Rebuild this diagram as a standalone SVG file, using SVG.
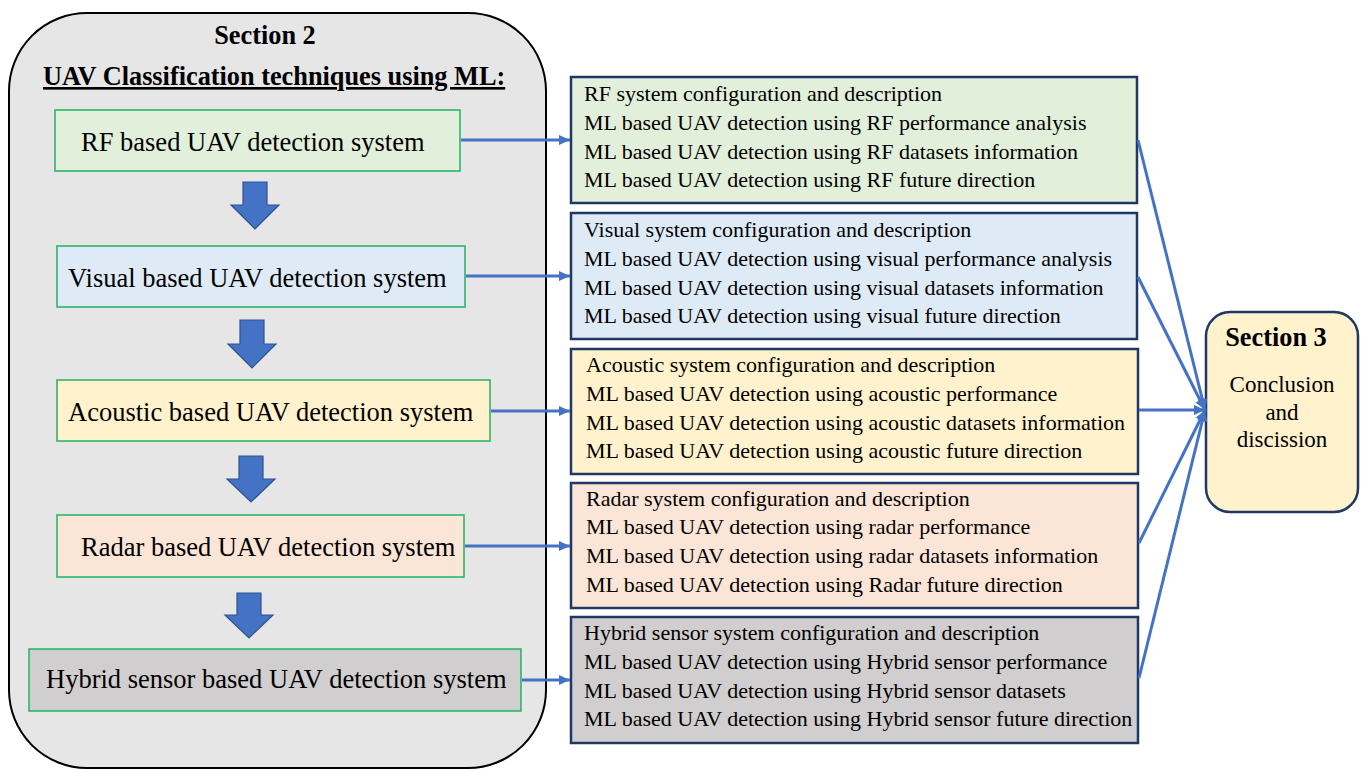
<svg xmlns="http://www.w3.org/2000/svg" width="1364" height="769" viewBox="0 0 1364 769">
<style>
.t{font-family:"Liberation Serif","Times New Roman",serif;fill:#000}
.lt{font-size:26.5px}
.rt{font-size:22px}
.b{font-weight:bold;font-size:26.3px}
.lb{stroke:#2DB56A;stroke-width:1.6}
.rb{stroke:#1F3864;stroke-width:2.5}
.ba{fill:#4472C4;stroke:#2F528F;stroke-width:1.2}
.cn{stroke:#4472C4;stroke-width:3;fill:none}
</style>
<defs>
<marker id="ah" markerUnits="userSpaceOnUse" markerWidth="12" markerHeight="12" viewBox="0 0 12 12" refX="11" refY="6" orient="auto">
<path d="M0,1 L11,6 L0,11 Z" fill="#4472C4"/>
</marker>
</defs>
<rect width="1364" height="769" fill="#fff"/>
<g id="section2">
<rect x="9" y="13" width="537" height="755" rx="78" ry="78" fill="#E7E6E6" stroke="#000" stroke-width="2"/>
<text class="t b" x="265" y="44" text-anchor="middle">Section 2</text>
<text class="t b" x="43" y="85" text-decoration="underline">UAV Classification techniques using ML:</text>
</g>
<g id="rf-left">
<rect class="lb" x="55" y="110" width="405" height="61" fill="#E2EFDA"/>
<text class="t lt" x="81" y="151">RF based UAV detection system</text>
</g>
<g id="visual-left">
<rect class="lb" x="57" y="246" width="408" height="61" fill="#DEEBF7"/>
<text class="t lt" x="68" y="287">Visual based UAV detection system</text>
</g>
<g id="acoustic-left">
<rect class="lb" x="57" y="380" width="433" height="61" fill="#FFF2CC"/>
<text class="t lt" x="68" y="421">Acoustic based UAV detection system</text>
</g>
<g id="radar-left">
<rect class="lb" x="57" y="515" width="407" height="62" fill="#FBE5D6"/>
<text class="t lt" x="81" y="556">Radar based UAV detection system</text>
</g>
<g id="hybrid-left">
<rect class="lb" x="29" y="649" width="492" height="62" fill="#D0CECE"/>
<text class="t lt" x="46" y="688">Hybrid sensor based UAV detection system</text>
</g>
<g id="down-arrows">
<path class="ba" d="M243,182 H267 V205 H279 L255,229 L231,205 H243 Z"/>
<path class="ba" d="M240,320 H264 V344 H276 L252,368 L228,344 H240 Z"/>
<path class="ba" d="M239,456 H263 V479 H275 L251,502 L227,479 H239 Z"/>
<path class="ba" d="M237,593 H261 V615 H273 L249,638 L225,615 H237 Z"/>
</g>
<g id="rf-right">
<rect class="rb" x="571" y="77" width="566" height="126" fill="#E2EFDA"/>
<text class="t rt" x="584" y="101">RF system configuration and description</text>
<text class="t rt" x="584" y="130">ML based UAV detection using RF performance analysis</text>
<text class="t rt" x="584" y="159">ML based UAV detection using RF datasets information</text>
<text class="t rt" x="584" y="187">ML based UAV detection using RF future direction</text>
</g>
<g id="visual-right">
<rect class="rb" x="571" y="213" width="566" height="126" fill="#DEEBF7"/>
<text class="t rt" x="584" y="237">Visual system configuration and description</text>
<text class="t rt" x="584" y="266">ML based UAV detection using visual performance analysis</text>
<text class="t rt" x="584" y="295">ML based UAV detection using visual datasets information</text>
<text class="t rt" x="584" y="323">ML based UAV detection using visual future direction</text>
</g>
<g id="acoustic-right">
<rect class="rb" x="571" y="349" width="567" height="125" fill="#FFF2CC"/>
<text class="t rt" x="586" y="372">Acoustic system configuration and description</text>
<text class="t rt" x="586" y="401">ML based UAV detection using acoustic performance</text>
<text class="t rt" x="586" y="430">ML based UAV detection using acoustic datasets information</text>
<text class="t rt" x="586" y="458">ML based UAV detection using acoustic future direction</text>
</g>
<g id="radar-right">
<rect class="rb" x="571" y="483" width="567" height="125" fill="#FBE5D6"/>
<text class="t rt" x="586" y="506">Radar system configuration and description</text>
<text class="t rt" x="586" y="534">ML based UAV detection using radar performance</text>
<text class="t rt" x="586" y="563">ML based UAV detection using radar datasets information</text>
<text class="t rt" x="586" y="592">ML based UAV detection using Radar future direction</text>
</g>
<g id="hybrid-right">
<rect class="rb" x="571" y="617" width="567" height="126" fill="#D0CECE"/>
<text class="t rt" x="584" y="640">Hybrid sensor system configuration and description</text>
<text class="t rt" x="584" y="669">ML based UAV detection using Hybrid sensor performance</text>
<text class="t rt" x="584" y="698">ML based UAV detection using Hybrid sensor datasets</text>
<text class="t rt" x="584" y="726">ML based UAV detection using Hybrid sensor future direction</text>
</g>
<g id="section3">
<rect class="rb" x="1206" y="312" width="152" height="200" rx="24" ry="24" fill="#FFF2CC"/>
<text class="t b" x="1276" y="346" text-anchor="middle">Section 3</text>
<text class="t" x="1282" y="392" font-size="23" text-anchor="middle">Conclusion</text>
<text class="t" x="1282" y="420" font-size="23" text-anchor="middle">and</text>
<text class="t" x="1282" y="447" font-size="23" text-anchor="middle">discission</text>
</g>
<g id="connectors">
<line class="cn" x1="461" y1="140" x2="570" y2="140" marker-end="url(#ah)"/>
<line class="cn" x1="466" y1="276" x2="570" y2="276" marker-end="url(#ah)"/>
<line class="cn" x1="491" y1="411" x2="570" y2="411" marker-end="url(#ah)"/>
<line class="cn" x1="465" y1="546" x2="570" y2="546" marker-end="url(#ah)"/>
<line class="cn" x1="522" y1="680" x2="570" y2="680" marker-end="url(#ah)"/>
<line class="cn" x1="1138" y1="140" x2="1205" y2="410" marker-end="url(#ah)"/>
<line class="cn" x1="1138" y1="277" x2="1205" y2="410" marker-end="url(#ah)"/>
<line class="cn" x1="1139" y1="410" x2="1205" y2="410" marker-end="url(#ah)"/>
<line class="cn" x1="1139" y1="543" x2="1205" y2="410" marker-end="url(#ah)"/>
<line class="cn" x1="1139" y1="678" x2="1205" y2="410" marker-end="url(#ah)"/>
</g>
</svg>
